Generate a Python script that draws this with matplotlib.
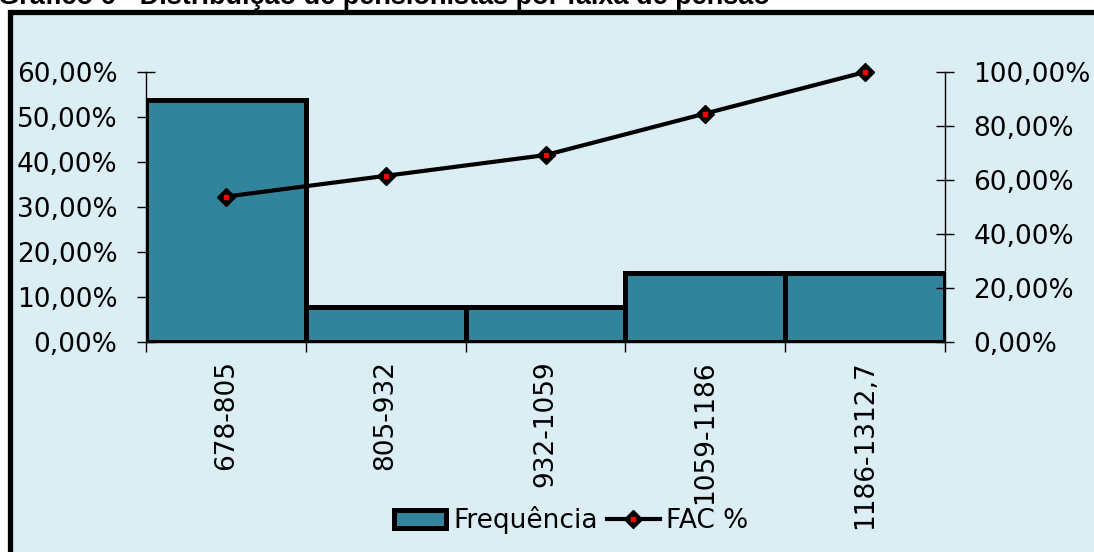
import numpy as np
import matplotlib.pyplot as plt
from matplotlib.patches import Rectangle, Patch
from matplotlib.lines import Line2D

# data
faixas = ['678-805', '805-932', '932-1059', '1059-1186', '1186-1312,7']
frequencia = [0.5385, 0.0769, 0.0769, 0.1538, 0.1538]
fac = [0.5385, 0.6154, 0.6923, 0.8462, 1.0]
left_ticks = [0.0, 0.1, 0.2, 0.3, 0.4, 0.5, 0.6]
right_ticks = [0.0, 0.2, 0.4, 0.6, 0.8, 1.0]

W, H = 1094, 552
bg = '#DBEEF4'
bar_color = '#31849B'

plt.rcParams['font.family'] = ['DejaVu Sans']

fig = plt.figure(figsize=(W / 100, H / 100), dpi=100)
fig.patch.set_facecolor('white')

# chart area box (behind the axes)
fig.patches.append(Rectangle((10 / W, -0.1), 1.2, 1 - 11.5 / H + 0.1,
                             transform=fig.transFigure, facecolor=bg,
                             edgecolor='black', linewidth=3.8, zorder=-10))

fig.text(-2 / W, 1 - 3.5 / H, 'Gráfico 6 - Distribuição de pensionistas por faixa de pensão',
         fontsize=19.5, fontweight='bold', family='Liberation Sans',
         ha='left', va='baseline')

ax = fig.add_axes([146 / W, (H - 342) / H, (945 - 146) / W, 270 / H])
ax.set_facecolor('none')
x = np.arange(len(faixas))
ax.bar(x, frequencia, width=1.0, color=bar_color, edgecolor='black',
       linewidth=3.6, zorder=2)
ax.set_xlim(-0.5, len(faixas) - 0.5)
ax.set_ylim(0, 0.6)

ax.set_xticks(np.arange(-0.5, len(faixas)), [''] * (len(faixas) + 1))
ax.tick_params(axis='x', which='major', direction='out', length=7, width=1)
ax.set_xticks(x, faixas, minor=True, rotation=90)
ax.tick_params(axis='x', which='minor', length=0, pad=13, labelsize=19)
for lab in ax.get_xticklabels(minor=True):
    lab.set_va('top')

ax.set_yticks(left_ticks, [f'{v * 100:.2f}%'.replace('.', ',') for v in left_ticks])
ax.tick_params(axis='y', direction='inout', length=13, width=1, pad=14, labelsize=19)

for s in ['top', 'right']:
    ax.spines[s].set_visible(False)
ax.spines['left'].set_linewidth(1)
ax.spines['bottom'].set_linewidth(1)

ax2 = ax.twinx()
ax2.plot(x, fac, color='black', linewidth=3, marker='D', markersize=9,
         markerfacecolor='black', markeredgecolor='black', zorder=5, clip_on=False)
ax2.plot(x, fac, linestyle='none', marker='s', markersize=2.5, color='red',
         zorder=6, clip_on=False)
ax2.set_ylim(0, 1.0)
ax2.set_yticks(right_ticks, [f'{v * 100:.2f}%'.replace('.', ',') for v in right_ticks])
ax2.tick_params(axis='y', direction='inout', length=13, width=1, pad=14, labelsize=19)
for s in ['top', 'left', 'bottom']:
    ax2.spines[s].set_visible(False)
ax2.spines['right'].set_linewidth(1)

bar_handle = Patch(facecolor=bar_color, edgecolor='black', linewidth=3.6)
line_handle = (Line2D([0], [0], color='black', linewidth=3, marker='D', markersize=9,
                      markerfacecolor='black', markeredgecolor='black'),
               Line2D([0], [0], linestyle='none', marker='s', markersize=2.5, color='red'))
fig.legend([bar_handle, line_handle], ['Frequência', 'FAC %'], loc='center', ncol=2,
           bbox_to_anchor=(571 / W, 32 / H), frameon=False, fontsize=19,
           handlelength=2.0, handletextpad=0.25, columnspacing=0.35)

fig.savefig('out.png', dpi=100, facecolor='white')
